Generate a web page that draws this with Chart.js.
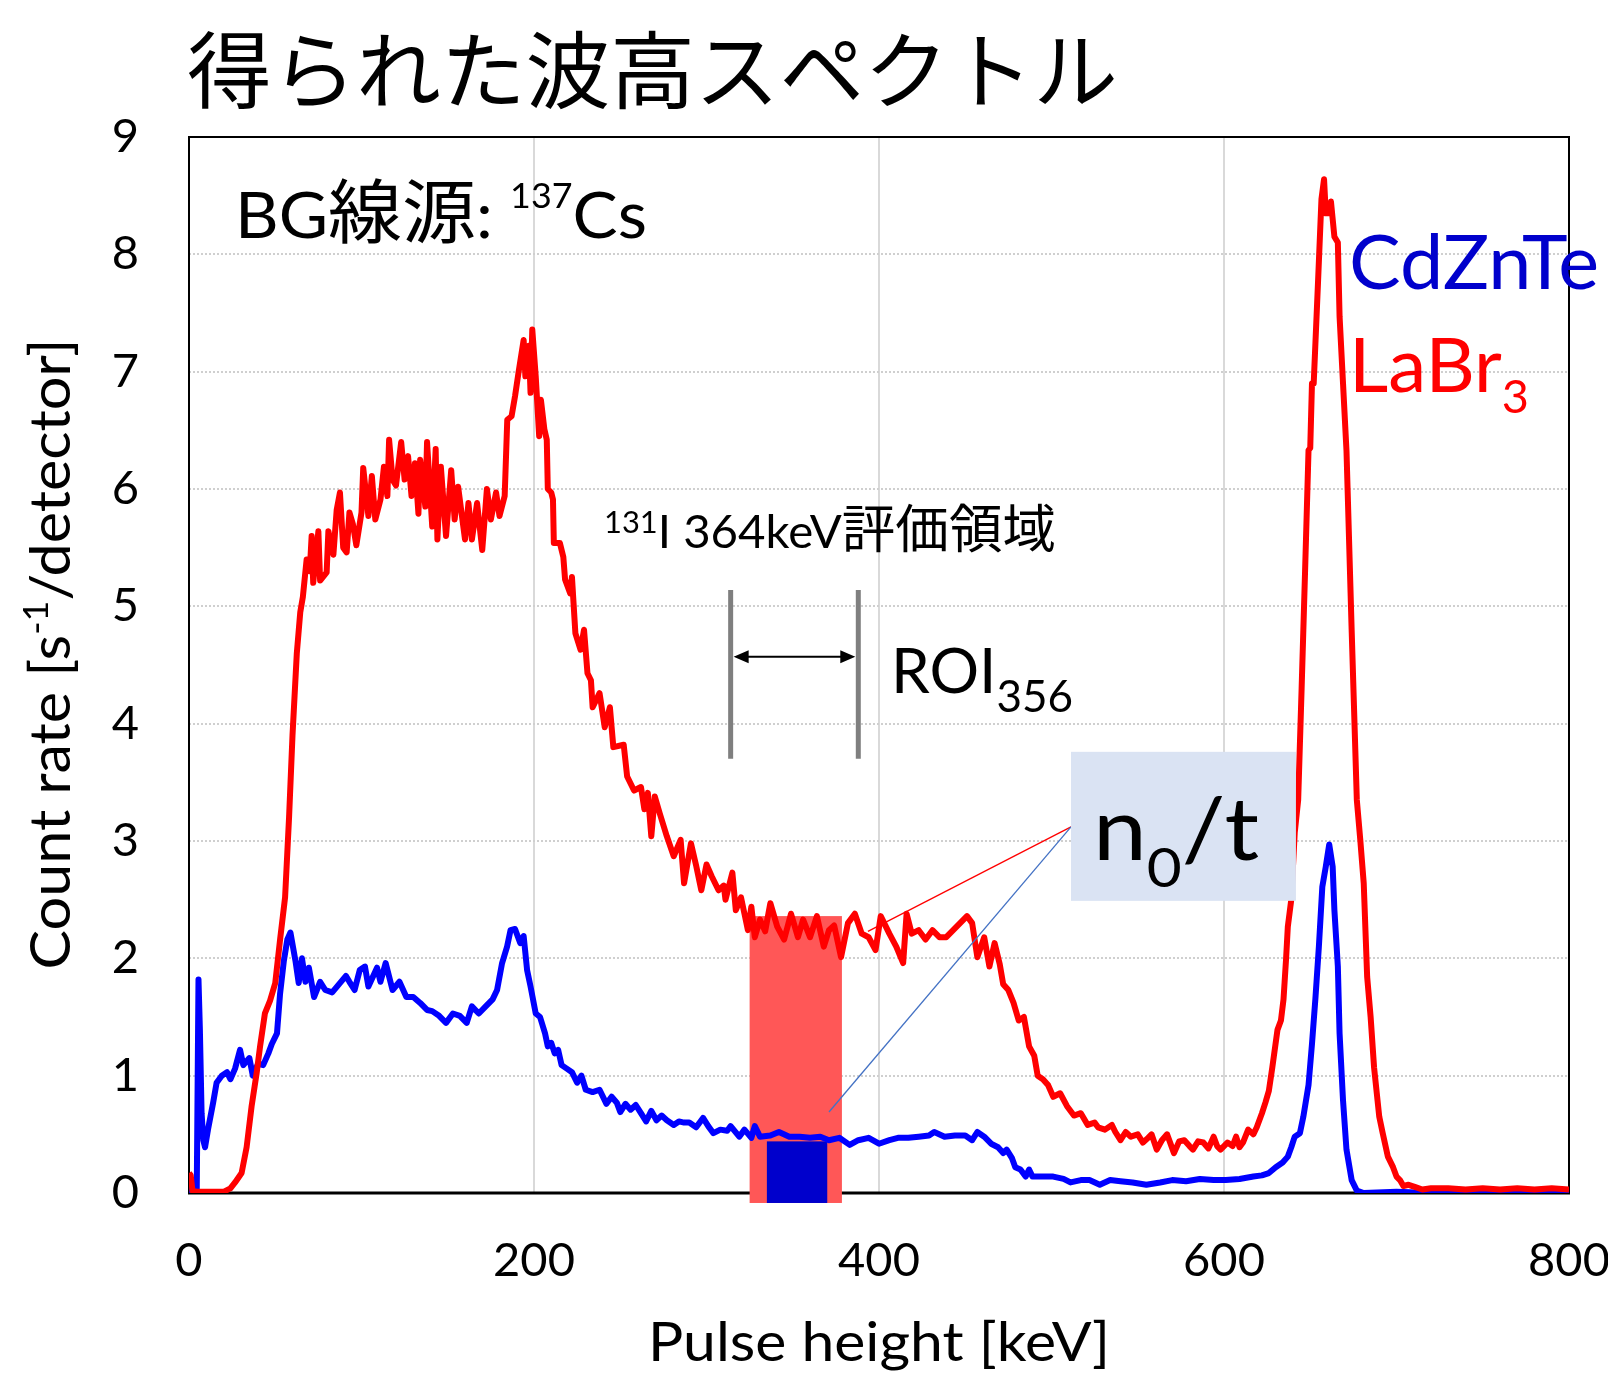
<!DOCTYPE html>
<html>
<head>
<meta charset="utf-8">
<script src="https://cdn.jsdelivr.net/npm/chart.js@4"></script>
<style>
html, body { margin: 0; padding: 0; background: #fff; }
#wrap { width: 1608px; height: 1376px; position: relative; }
</style>
</head>
<body>
<div id="wrap"><canvas id="myChart"></canvas></div>
<script>
// LaBr3 spectrum (keV, count rate)
const labrKeV = [
  0, 1, 2, 5, 10, 15, 20, 24, 26.7, 30.5,
  33.4, 36.3, 39.2, 41.2, 44, 47, 50, 52.8, 55.7, 58,
  60, 62.5, 64.5, 66, 68.2, 70, 71.1, 72, 75, 76,
  79.8, 80.8, 83.7, 85.6, 87.5, 89.4, 91.4, 93, 95, 97,
  100, 101, 104, 106, 108, 111, 113, 115, 116, 118,
  120, 123, 125, 127, 129, 131, 133, 134, 137, 138,
  141, 143, 144, 146, 149, 152, 154, 156, 160, 162,
  164, 167, 170, 172.7, 175, 178, 180, 183, 184.5, 187,
  189, 191, 194, 195, 197, 198, 199, 201, 203, 204,
  206, 207.4, 208, 210, 211, 211.5, 215, 217, 218, 221,
  222, 224, 227, 229, 231, 233, 234, 238, 241, 244,
  246, 252, 254, 258, 262, 264, 266, 268, 270, 273,
  277, 281, 285, 287, 291, 294, 297, 300, 303, 307,
  310, 311, 315, 317, 320, 322, 324, 326, 328, 331,
  334, 337, 341, 345, 349, 353, 356, 360, 364, 368,
  371, 374, 378, 382, 386, 390, 394, 398, 401, 406,
  410, 414, 416, 419, 423, 427, 431, 435, 439, 443,
  447, 451, 454, 457, 461, 464, 467, 470, 472, 475,
  478, 481, 484, 487, 490, 492, 495, 498, 501, 505,
  509, 513, 517, 521, 525, 527, 531, 535, 537, 540,
  543, 546, 550, 553, 556, 558, 561, 564, 567, 571,
  574, 577, 580, 582, 585, 588, 591, 594, 596, 598,
  602, 605, 607, 609, 611, 614, 617, 619, 622, 624,
  626, 628, 631, 633, 634.5, 636, 637, 639, 641, 643,
  645, 647, 649, 650, 651, 652, 654.5, 656.5, 658, 659,
  661, 662, 664, 666, 667, 669, 671, 674, 677, 679,
  681, 683, 685, 687, 690, 692, 695, 698, 700, 702,
  704, 707, 711, 715, 720, 730, 740, 750, 760, 770,
  780, 790, 800
]
const labrRate = [
  0.17, 0.15, 0.02, 0.01, 0.01, 0.01, 0.01, 0.04, 0.09, 0.17,
  0.39, 0.74, 1.02, 1.25, 1.53, 1.64, 1.79, 2.16, 2.52, 3.2,
  3.9, 4.6, 4.95, 5.08, 5.40, 5.3, 5.6, 5.2, 5.64, 5.22,
  5.29, 5.64, 5.44, 5.82, 5.97, 5.5, 5.46, 5.8, 5.7, 5.52,
  5.8, 6.18, 5.77, 6.11, 5.74, 5.91, 6.19, 5.94, 6.42, 6.08,
  6.03, 6.40, 6.08, 6.28, 5.94, 6.22, 5.79, 6.25, 5.85, 6.40,
  5.68, 6.34, 5.57, 6.19, 5.6, 6.16, 5.74, 6.02, 5.57, 5.88,
  5.57, 5.88, 5.48, 6.0, 5.74, 5.97, 5.77, 5.94, 6.59, 6.62,
  6.79, 6.99, 7.27, 6.96, 7.22, 6.82, 7.36, 6.96, 6.45, 6.76,
  6.51, 6.42, 6.0, 5.97, 5.91, 5.54, 5.54, 5.42, 5.23, 5.11,
  5.25, 4.77, 4.63, 4.8, 4.43, 4.37, 4.14, 4.26, 3.97, 4.14,
  3.8, 3.82, 3.55, 3.43, 3.46, 3.27, 3.41, 3.04, 3.38, 3.23,
  3.04, 2.87, 3.01, 2.64, 2.98, 2.79, 2.58, 2.80, 2.70, 2.58,
  2.62, 2.50, 2.73, 2.41, 2.52, 2.38, 2.24, 2.44, 2.18, 2.33,
  2.23, 2.47, 2.27, 2.16, 2.38, 2.18, 2.33, 2.18, 2.36, 2.10,
  2.24, 2.28, 2.01, 2.30, 2.38, 2.21, 2.18, 2.07, 2.36, 2.21,
  2.10, 1.96, 2.38, 2.21, 2.24, 2.16, 2.24, 2.18, 2.18, 2.24,
  2.30, 2.36, 2.30, 2.01, 2.18, 1.93, 2.13, 1.95, 1.78, 1.73,
  1.62, 1.47, 1.50, 1.25, 1.17, 1.0, 0.97, 0.92, 0.82, 0.85,
  0.74, 0.66, 0.68, 0.58, 0.60, 0.56, 0.54, 0.58, 0.52, 0.45,
  0.52, 0.48, 0.50, 0.43, 0.47, 0.50, 0.37, 0.45, 0.50, 0.34,
  0.44, 0.45, 0.40, 0.37, 0.44, 0.43, 0.38, 0.48, 0.40, 0.37,
  0.43, 0.40, 0.48, 0.39, 0.43, 0.54, 0.50, 0.56, 0.68, 0.77,
  0.87, 1.07, 1.39, 1.47, 1.65, 2.0, 2.27, 2.5, 3.07, 3.35,
  4.3, 5.3, 6.33, 6.35, 6.9, 6.9, 7.76, 8.47, 8.64, 8.35,
  8.35, 8.45, 8.15, 8.1, 7.47, 6.9, 6.33, 4.8, 3.35, 3.01,
  2.64, 1.84, 1.5, 1.07, 0.65, 0.51, 0.31, 0.22, 0.14, 0.11,
  0.06, 0.07, 0.05, 0.03, 0.04, 0.04, 0.03, 0.04, 0.03, 0.04,
  0.03, 0.04, 0.03
]

// CdZnTe spectrum
const czteKeV = [
  0, 1, 3, 4.5, 5.5, 6.3, 7.3, 8.3, 9.3, 11,
  14, 16, 19, 22, 24, 26.7, 29.6, 31.5, 35, 37,
  40, 43, 46, 48, 51, 52.8, 55, 57, 58.8, 61.7,
  63.6, 65.5, 67.5, 69.5, 72.5, 76, 79, 83, 87, 91,
  93, 96, 99, 102, 104, 109, 111, 114, 118, 122,
  126, 130, 134, 138, 141, 145, 149, 153, 157, 161,
  164, 168, 172, 176, 178.6, 181.5, 184.4, 186.4, 189, 192,
  194, 196, 198, 201, 203.5, 206.4, 208, 210, 212, 214,
  216, 219, 222, 225, 227.5, 230, 234, 238, 242, 245,
  248, 250, 253, 256, 259, 262, 265, 268, 271, 274,
  277, 281, 284, 287, 290, 294, 298, 301, 304, 308,
  312, 314, 319, 322, 326, 328, 331, 337, 342, 348,
  354, 360, 366, 371, 377, 383, 388, 394, 400, 406,
  411, 417, 423, 429, 432, 438, 444, 450, 454, 457,
  461, 465, 469, 472, 474, 477, 479, 482, 485, 487,
  489, 495, 501, 507, 511, 517, 522, 528, 534, 540,
  547, 555, 563, 570, 578, 586, 594, 601, 609, 617,
  622, 626, 630, 634, 637, 639, 641, 644, 646, 649,
  651, 653, 655, 657, 659, 661, 663, 664, 666, 667,
  669, 671, 674, 677, 681, 700, 720, 740, 760, 780,
  800
]
const czteRate = [
  0.1, 0.02, 0.0, 0.02, 1.82, 1.4, 0.68, 0.45, 0.39, 0.54,
  0.77, 0.94, 1.0, 1.03, 0.97, 1.06, 1.22, 1.09, 1.15, 1.0,
  1.1, 1.09, 1.19, 1.27, 1.36, 1.7, 1.98, 2.16, 2.22, 1.98,
  1.79, 2.0, 1.8, 1.92, 1.67, 1.8, 1.73, 1.71, 1.78, 1.85,
  1.8, 1.73, 1.9, 1.93, 1.76, 1.92, 1.8, 1.96, 1.73, 1.8,
  1.67, 1.67, 1.62, 1.56, 1.55, 1.51, 1.45, 1.53, 1.51, 1.45,
  1.59, 1.53, 1.59, 1.65, 1.73, 1.96, 2.1, 2.24, 2.25, 2.13,
  2.19, 1.9, 1.76, 1.53, 1.5, 1.36, 1.25, 1.28, 1.19, 1.22,
  1.09, 1.06, 1.03, 0.94, 1.0, 0.88, 0.86, 0.88, 0.76, 0.82,
  0.77, 0.69, 0.76, 0.71, 0.75, 0.68, 0.61, 0.7, 0.62, 0.66,
  0.62, 0.58, 0.61, 0.6, 0.6, 0.56, 0.64, 0.57, 0.51, 0.54,
  0.53, 0.57, 0.48, 0.54, 0.47, 0.57, 0.48, 0.49, 0.52, 0.48,
  0.48, 0.47, 0.48, 0.45, 0.47, 0.41, 0.45, 0.47, 0.42, 0.45,
  0.47, 0.47, 0.48, 0.49, 0.52, 0.48, 0.49, 0.49, 0.45, 0.52,
  0.48, 0.42, 0.39, 0.34, 0.37, 0.3, 0.22, 0.2, 0.14, 0.2,
  0.14, 0.14, 0.14, 0.12, 0.09, 0.11, 0.11, 0.07, 0.11, 0.1,
  0.09, 0.07, 0.09, 0.11, 0.1, 0.12, 0.11, 0.11, 0.12, 0.14,
  0.15, 0.17, 0.22, 0.26, 0.31, 0.39, 0.48, 0.51, 0.65, 0.92,
  1.27, 1.66, 2.1, 2.61, 2.78, 2.97, 2.78, 2.41, 1.93, 1.36,
  0.79, 0.37, 0.11, 0.02, 0.0, 0.01, 0.0, 0.01, 0.0, 0.01,
  0.01
]

const xTicks = [0, 200, 400, 600, 800]
const yTicks = [0, 1, 2, 3, 4, 5, 6, 7, 8, 9]

// ROI windows (keV) and their summed levels
const labrWindow = [325, 378.5]
const labrWindowTop = 2.36
const czteWindow = [335, 370]
const czteWindowTop = 0.44
const bandFloor = -0.085
const roiMarkers = [314, 388]
const roiMarkerSpan = [3.70, 5.14]
const roiArrowRate = 4.57
// n0/t call-out box and where its leader lines end
const calloutKeV = [511.3, 641.7]
const calloutRate = [2.49, 3.76]
const leaderFrom = [511.3, 3.12]
const leaderLabr = [393.6, 2.23]
const leaderCzte = [371, 0.69]

const FONT = 'Lato, "Noto Sans CJK JP", sans-serif'
const JP = '"Noto Sans CJK JP", sans-serif'

// parts: [text, size, rise, family]
function richText(ctx, parts, x, y, width, opt) {
  opt = opt || {}
  ctx.save()
  let natural = 0
  parts.forEach(p => {
    ctx.font = p[1] + 'px ' + (p[3] || FONT)
    natural += ctx.measureText(p[0]).width
  })
  ctx.translate(x, y)
  if (opt.rotate) ctx.rotate(opt.rotate)
  ctx.scale(width ? width / natural : 1, 1)
  let cx = opt.center ? -natural / 2 : 0
  ctx.fillStyle = opt.color || '#000'
  ctx.textBaseline = 'alphabetic'
  ctx.textAlign = 'left'
  parts.forEach(p => {
    ctx.font = p[1] + 'px ' + (p[3] || FONT)
    ctx.fillText(p[0], cx, -(p[2] || 0))
    cx += ctx.measureText(p[0]).width
  })
  ctx.restore()
}

const overlay = {
  id: 'overlay',
  beforeDatasetsDraw(chart) {
    const {ctx, chartArea: a, scales: {x, y}} = chart
    ctx.save()
    ctx.strokeStyle = '#000'
    ctx.lineWidth = 2
    ctx.strokeRect(a.left, a.top, a.right - a.left, a.bottom - a.top)
    ctx.lineWidth = 3
    ctx.beginPath()
    ctx.moveTo(a.left - 1, a.bottom)
    ctx.lineTo(a.right + 1, a.bottom)
    ctx.stroke()
    const band = (k, top, color) => {
      const x0 = x.getPixelForValue(k[0]), x1 = x.getPixelForValue(k[1])
      const y0 = y.getPixelForValue(top), y1 = y.getPixelForValue(bandFloor)
      ctx.fillStyle = color
      ctx.fillRect(x0, y0, x1 - x0, y1 - y0)
    }
    band(labrWindow, labrWindowTop, '#ff5757')
    band(czteWindow, czteWindowTop, '#0000cc')
    ctx.restore()
  },
  afterDatasetsDraw(chart) {
    const {ctx, scales: {x, y}} = chart
    ctx.save()
    // ROI markers + arrow
    ctx.strokeStyle = '#7f7f7f'
    ctx.lineWidth = 5
    roiMarkers.forEach(k => {
      ctx.beginPath()
      ctx.moveTo(x.getPixelForValue(k), y.getPixelForValue(roiMarkerSpan[0]))
      ctx.lineTo(x.getPixelForValue(k), y.getPixelForValue(roiMarkerSpan[1]))
      ctx.stroke()
    })
    const ax0 = x.getPixelForValue(roiMarkers[0]) + 3
    const ax1 = x.getPixelForValue(roiMarkers[1]) - 3
    const ay = y.getPixelForValue(roiArrowRate)
    ctx.strokeStyle = '#000'
    ctx.fillStyle = '#000'
    ctx.lineWidth = 2
    ctx.beginPath()
    ctx.moveTo(ax0 + 8, ay)
    ctx.lineTo(ax1 - 8, ay)
    ctx.stroke()
    ctx.beginPath()
    ctx.moveTo(ax0, ay); ctx.lineTo(ax0 + 15, ay - 6.5); ctx.lineTo(ax0 + 15, ay + 6.5); ctx.closePath()
    ctx.moveTo(ax1, ay); ctx.lineTo(ax1 - 15, ay - 6.5); ctx.lineTo(ax1 - 15, ay + 6.5); ctx.closePath()
    ctx.fill()

    // leader lines
    const fx = x.getPixelForValue(leaderFrom[0]), fy = y.getPixelForValue(leaderFrom[1])
    ctx.lineWidth = 1.3
    ctx.strokeStyle = '#ff0000'
    ctx.beginPath()
    ctx.moveTo(fx, fy)
    ctx.lineTo(x.getPixelForValue(leaderLabr[0]), y.getPixelForValue(leaderLabr[1]))
    ctx.stroke()
    ctx.strokeStyle = '#4472c4'
    ctx.beginPath()
    ctx.moveTo(fx, fy)
    ctx.lineTo(x.getPixelForValue(leaderCzte[0]), y.getPixelForValue(leaderCzte[1]))
    ctx.stroke()

    // n0/t box
    const bx0 = x.getPixelForValue(calloutKeV[0]), bx1 = x.getPixelForValue(calloutKeV[1])
    const by0 = y.getPixelForValue(calloutRate[1]), by1 = y.getPixelForValue(calloutRate[0])
    ctx.fillStyle = '#dae3f3'
    ctx.fillRect(bx0, by0, bx1 - bx0, by1 - by0)
    ctx.restore()
  },
  afterDraw(chart) {
    const ctx = chart.ctx
    richText(ctx, [['得られた波高スペクトル', 84, 0, JP]], 187, 102, 931)
    richText(ctx, [['BG', 64], ['線源', 70, 0, JP], [': ', 64], ['137', 34, 30], ['Cs', 64]], 235, 238, 412)
    richText(ctx, [['131', 30, 15], ['I 364keV', 46], ['評価領域', 52, 0, JP]], 604, 548, 452)
    richText(ctx, [['ROI', 62], ['356', 44, -19]], 891, 693, 182)
    richText(ctx, [['n', 88], ['0', 55, -27], ['/t', 88]], 1093, 860, 166)
    richText(ctx, [['CdZnTe', 75]], 1349, 289, 250, {color: '#0000cc'})
    richText(ctx, [['LaBr', 75], ['3', 46, -21]], 1349, 392, 180, {color: '#ff0000'})
    richText(ctx, [['Count rate [s', 56], ['-1', 34, 22], ['/detector]', 56]], 70, 654, 631, {rotate: -Math.PI / 2, center: true})
    richText(ctx, [['Pulse height [keV]', 54]], 879, 1361, 462, {center: true})
  }
}

const ctx = document.getElementById('myChart').getContext('2d')
const sensorsChart = new Chart(ctx, {
  type: 'line',
  data: {
    datasets: [
      {
        label: 'LaBr3',
        data: labrRate.map((v, i) => ({x: labrKeV[i], y: v})),
        borderColor: '#ff0000',
        borderWidth: 6,
        pointRadius: 0,
        tension: 0,
        borderJoinStyle: 'round',
      },
      {
        label: 'CdZnTe',
        data: czteRate.map((v, i) => ({x: czteKeV[i], y: v})),
        borderColor: '#0000ff',
        borderWidth: 6,
        pointRadius: 0,
        tension: 0,
        borderJoinStyle: 'round',
      },
    ],
  },
  options: {
    responsive: true,
    maintainAspectRatio: false,
    animation: false,
    devicePixelRatio: 1,
    layout: {padding: {top: 137, right: 39, bottom: 0, left: 0}},
    plugins: {
      legend: {display: false},
      tooltip: {enabled: false},
    },
    scales: {
      x: {
        type: 'linear',
        min: 0,
        max: 800,
        afterBuildTicks: s => { s.ticks = xTicks.map(v => ({value: v})) },
        afterFit: s => { s.height = 183; s.paddingLeft = 0; s.paddingRight = 0 },
        grid: {color: '#d9d9d9', lineWidth: 2, drawTicks: false},
        border: {display: false},
        ticks: {color: '#000', font: {family: 'Lato', size: 47}, padding: 40, maxRotation: 0, autoSkip: false},
      },
      y: {
        type: 'linear',
        min: 0,
        max: 9,
        afterBuildTicks: s => { s.ticks = yTicks.map(v => ({value: v})) },
        afterFit: s => { s.width = 189; s.paddingTop = 0; s.paddingBottom = 0 },
        grid: {color: '#cfcfcf', lineWidth: 2, drawTicks: false},
        border: {display: false, dash: [2, 2]},
        ticks: {color: '#000', font: {family: 'Lato', size: 47}, padding: 50, autoSkip: false},
      },
    },
  },
  plugins: [overlay],
})
</script>
</body>
</html>
